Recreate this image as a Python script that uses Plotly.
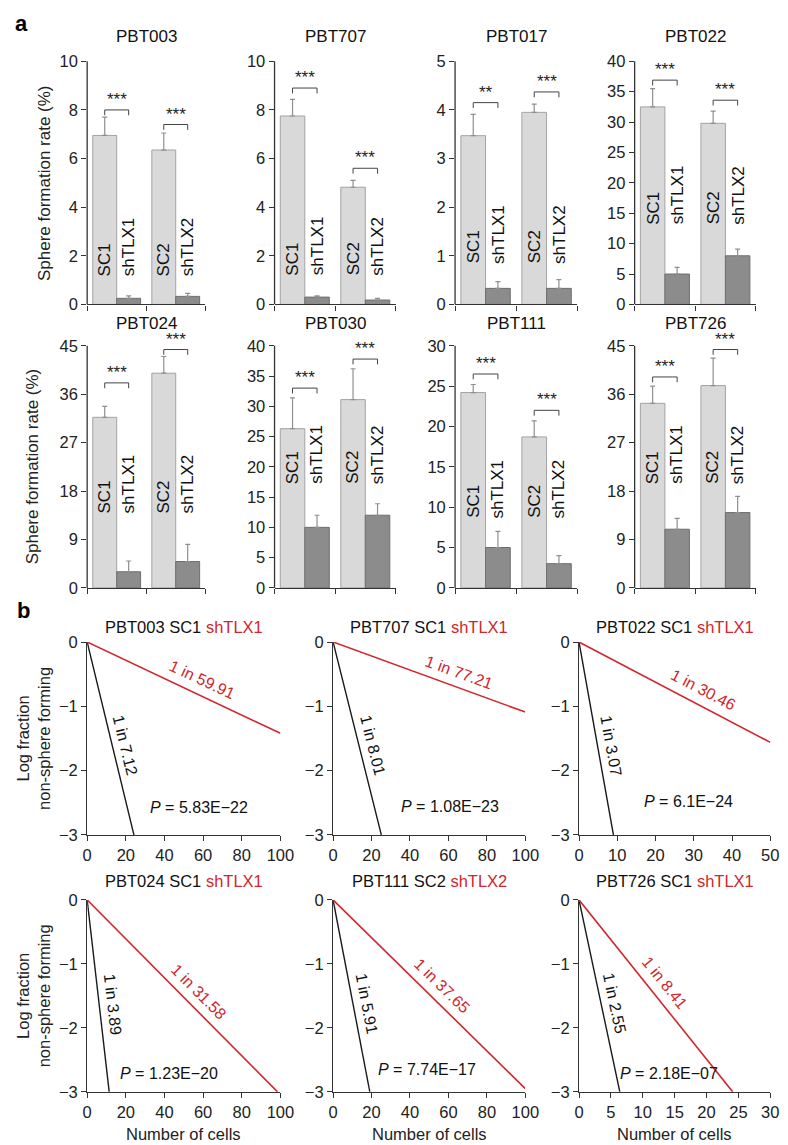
import math
import plotly.graph_objects as go

W, H = 788, 1145
FONT = "Liberation Sans, Arial, Helvetica, sans-serif"
RED = "#d0262c"
AX = "#333333"

# ---------------- panel a data ----------------
bar_titles = ["PBT003", "PBT707", "PBT017", "PBT022", "PBT024", "PBT030", "PBT111", "PBT726"]
group_index = [0, 1]
sc_labels = ["SC1", "SC2"]
sh_labels = ["shTLX1", "shTLX2"]
sc_values = [[6.95, 6.35], [7.75, 4.82], [3.47, 3.95], [32.5, 29.8],
             [31.7, 39.9], [26.3, 31.1], [24.2, 18.7], [34.3, 37.6]]
sc_errors = [[0.75, 0.70], [0.68, 0.28], [0.44, 0.17], [3.0, 2.0],
             [2.05, 3.1], [5.1, 5.1], [1.0, 2.0], [3.2, 5.1]]
sh_values = [[0.25, 0.33], [0.30, 0.18], [0.33, 0.33], [5.0, 8.0],
             [3.0, 4.9], [10.0, 12.0], [5.0, 3.0], [10.9, 14.0]]
sh_errors = [[0.10, 0.12], [0.05, 0.07], [0.14, 0.18], [1.1, 1.1],
             [2.0, 3.2], [2.0, 1.9], [2.0, 1.0], [2.0, 3.0]]
sig_stars = [["***", "***"], ["***", "***"], ["**", "***"], ["***", "***"],
             ["***", "***"], ["***", "***"], ["***", "***"], ["***", "***"]]
sig_levels = [[8.0, 7.4], [8.9, 5.6], [4.15, 4.37], [36.9, 33.6],
              [38.1, 44.3], [33.0, 37.8], [26.5, 22.0], [39.2, 44.3]]
y_max = [10, 10, 5, 40, 45, 40, 30, 45]
y_step = [2, 2, 1, 5, 9, 5, 5, 9]

# ---------------- panel b data ----------------
lda_titles = ["PBT003 SC1", "PBT707 SC1", "PBT022 SC1", "PBT024 SC1", "PBT111 SC2", "PBT726 SC1"]
lda_kd_names = ["shTLX1", "shTLX1", "shTLX1", "shTLX1", "shTLX2", "shTLX1"]
x_max = [100, 100, 50, 100, 100, 30]
x_step = [20, 20, 10, 20, 20, 5]
ctrl_x = [[0, 24.2], [0, 25.1], [0, 9.0], [0, 11.4], [0, 19.1], [0, 6.4]]
ctrl_y = [[0, -3], [0, -3], [0, -3], [0, -3], [0, -3], [0, -3]]
kd_x = [[0, 100], [0, 100], [0, 50], [0, 98.5], [0, 100], [0, 24.1]]
kd_y = [[0, -1.42], [0, -1.09], [0, -1.56], [0, -3], [0, -2.95], [0, -3]]
ctrl_freq = ["1 in 7.12", "1 in 8.01", "1 in 3.07", "1 in 3.89", "1 in 5.91", "1 in 2.55"]
kd_freq = ["1 in 59.91", "1 in 77.21", "1 in 30.46", "1 in 31.58", "1 in 37.65", "1 in 8.41"]
p_values = ["5.83E\u221222", "1.08E\u221223", "6.1E\u221224", "1.23E\u221220", "7.74E\u221217", "2.18E\u221207"]
p_x = [58, 61, 28.6, 42.6, 49, 14.1]
p_y = [-2.57, -2.56, -2.48, -2.71, -2.65, -2.71]

# ---------------- layout settings (pixels) ----------------
BAR_COLS = [(76, 197), (268, 392), (453, 578), (637, 761)]
BAR_ROWS = [(45, 292), (334, 580)]
BAR_TITLE_Y = [20, 311]
BAR_YLAB_X = [33, 20]
EXT = 1.14
BARGAP = 0.19
label_base_frac = [0.108, 0.11, 0.16, 0.32, 0.30, 0.42, 0.28, 0.42]

LINE_COLS = [(76, 274), (328, 525), (580, 776)]
LINE_ROWS = [(635, 831), (897, 1092)]
LINE_TITLE_Y = [620, 878]
red_t = [0.56, 0.63, 0.61, 0.53, 0.51, 0.48]
black_t = 0.55

fig = go.Figure()
layout = {}
annotations = []
shapes = []


def px_x(p):
    return p / W


def px_y(p):
    return 1 - p / H


tickfont = dict(size=16.5, color="#222", family=FONT)

# ---------------- panel a ----------------
off = (1 - BARGAP) / 4
for i, title in enumerate(bar_titles):
    k = i + 1
    r, c = divmod(i, 4)
    sfx = "" if k == 1 else str(k)
    xref, yref = "x" + sfx, "y" + sfx
    x0p, x1p = BAR_COLS[c]
    topp, botp = BAR_ROWS[r]
    ymax = y_max[i]
    top_ext = botp - (botp - topp) * EXT
    layout["xaxis" + sfx] = dict(
        domain=[px_x(x0p), px_x(x1p)], anchor=yref, range=[-0.5, 1.5],
        tickvals=[-0.5, 0.5, 1.5], ticks="outside", ticklen=5, tickwidth=1.3,
        tickcolor=AX, showticklabels=False, showline=True, linecolor=AX,
        linewidth=1.3, showgrid=False, zeroline=False, fixedrange=True)
    layout["yaxis" + sfx] = dict(
        domain=[px_y(botp), px_y(top_ext)], anchor=xref, range=[0, ymax * EXT],
        tickvals=list(range(0, ymax + 1, y_step[i])), ticks="outside", ticklen=5,
        tickwidth=1.3, tickcolor=AX, showline=False, showgrid=False,
        zeroline=False, tickfont=tickfont, fixedrange=True)
    shapes.append(dict(type="line", xref=xref + " domain", yref=yref, x0=0, x1=0,
                       y0=0, y1=ymax, line=dict(color=AX, width=1.3)))

    fig.add_trace(go.Bar(
        x=group_index, y=sc_values[i], xaxis=xref, yaxis=yref, showlegend=False,
        marker=dict(color="#d9d9d9", line=dict(color="#a3a3a3", width=1)),
        error_y=dict(type="data", array=sc_errors[i], arrayminus=[0, 0],
                     symmetric=False, color="#8f8f8f", thickness=1.2, width=2.5)))
    fig.add_trace(go.Bar(
        x=group_index, y=sh_values[i], xaxis=xref, yaxis=yref, showlegend=False,
        marker=dict(color="#8c8c8c", line=dict(color="#6e6e6e", width=1)),
        error_y=dict(type="data", array=sh_errors[i], arrayminus=[0, 0],
                     symmetric=False, color="#8f8f8f", thickness=1.2, width=2.5)))

    base = label_base_frac[i] * ymax
    for g in group_index:
        for name, dx in ((sc_labels[g], -off), (sh_labels[g], off)):
            annotations.append(dict(
                x=g + dx, y=base, xref=xref, yref=yref, text=name, textangle=-90,
                showarrow=False, xanchor="center", yanchor="bottom",
                font=dict(size=17, color="#111", family=FONT)))
        L = sig_levels[i][g]
        tk = 0.022 * ymax
        xl, xr = g - off, g + off
        bl = dict(color="#444", width=1)
        shapes.append(dict(type="line", xref=xref, yref=yref, x0=xl, x1=xr, y0=L, y1=L, line=bl))
        shapes.append(dict(type="line", xref=xref, yref=yref, x0=xl, x1=xl, y0=L - tk, y1=L, line=bl))
        shapes.append(dict(type="line", xref=xref, yref=yref, x0=xr, x1=xr, y0=L - tk, y1=L, line=bl))
        annotations.append(dict(
            x=g, y=L, xref=xref, yref=yref, text=sig_stars[i][g], showarrow=False,
            xanchor="center", yanchor="bottom", yshift=-1,
            font=dict(size=17, color="#222", family=FONT)))

    annotations.append(dict(
        x=px_x((x0p + x1p) / 2), y=px_y(BAR_TITLE_Y[r]), xref="paper", yref="paper",
        text=title, showarrow=False, xanchor="center", yanchor="middle",
        font=dict(size=17, color="#111", family=FONT)))

for r in range(2):
    topp, botp = BAR_ROWS[r]
    annotations.append(dict(
        x=px_x(BAR_YLAB_X[r]), y=px_y((topp + botp) / 2), xref="paper", yref="paper",
        text="Sphere formation rate (%)", textangle=-90, showarrow=False,
        xanchor="center", yanchor="middle", font=dict(size=17, color="#222", family=FONT)))

# ---------------- panel b ----------------
for j, title in enumerate(lda_titles):
    k = 9 + j
    r, c = divmod(j, 3)
    sfx = str(k)
    xref, yref = "x" + sfx, "y" + sfx
    x0p, x1p = LINE_COLS[c]
    topp, botp = LINE_ROWS[r]
    layout["xaxis" + sfx] = dict(
        domain=[px_x(x0p), px_x(x1p)], anchor=yref, range=[0, x_max[j]],
        tickvals=list(range(0, x_max[j] + 1, x_step[j])), ticks="outside",
        ticklen=5, tickwidth=1.3, tickcolor=AX, showline=True, linecolor=AX,
        linewidth=1.3, showgrid=False, zeroline=False, tickfont=tickfont,
        fixedrange=True)
    layout["yaxis" + sfx] = dict(
        domain=[px_y(botp), px_y(topp)], anchor=xref, range=[-3, 0],
        tickvals=[0, -1, -2, -3], ticks="outside", ticklen=5, tickwidth=1.3,
        tickcolor=AX, showline=True, linecolor=AX, linewidth=1.3,
        showgrid=False, zeroline=False, tickfont=tickfont, fixedrange=True)

    fig.add_trace(go.Scatter(x=ctrl_x[j], y=ctrl_y[j], mode="lines", xaxis=xref, yaxis=yref,
                             line=dict(color="#1a1a1a", width=1.4), showlegend=False))
    fig.add_trace(go.Scatter(x=kd_x[j], y=kd_y[j], mode="lines", xaxis=xref, yaxis=yref,
                             line=dict(color=RED, width=1.6), showlegend=False))

    pxx = (x1p - x0p) / x_max[j]
    pxy = (botp - topp) / 3.0

    def along(xs, ys, t, text, color, d):
        xe, ye = xs[1], ys[1]
        th = math.atan2(-ye * pxy, xe * pxx)
        annotations.append(dict(
            x=xs[0] + t * (xe - xs[0]), y=ys[0] + t * (ye - ys[0]), xref=xref, yref=yref,
            text=text, textangle=math.degrees(th), showarrow=False,
            xanchor="center", yanchor="middle",
            xshift=d * math.sin(th), yshift=d * math.cos(th),
            font=dict(size=16, color=color, family=FONT)))

    along(kd_x[j], kd_y[j], red_t[j], kd_freq[j], RED, 15)
    along(ctrl_x[j], ctrl_y[j], black_t, ctrl_freq[j], "#111", 13)

    annotations.append(dict(
        x=p_x[j], y=p_y[j], xref=xref, yref=yref,
        text="<i>P</i> = " + p_values[j], showarrow=False,
        xanchor="center", yanchor="middle", font=dict(size=16, color="#111", family=FONT)))

    annotations.append(dict(
        x=px_x((x0p + x1p) / 2), y=px_y(LINE_TITLE_Y[r]), xref="paper", yref="paper",
        text=title + " <span style='color:%s'>%s</span>" % (RED, lda_kd_names[j]),
        showarrow=False, xanchor="center", yanchor="middle",
        font=dict(size=16.5, color="#111", family=FONT)))
    if r == 1:
        annotations.append(dict(
            x=px_x((x0p + x1p) / 2), y=px_y(1135), xref="paper", yref="paper",
            text="Number of cells", showarrow=False, xanchor="center", yanchor="middle",
            font=dict(size=16.5, color="#222", family=FONT)))

for r in range(2):
    topp, botp = LINE_ROWS[r]
    annotations.append(dict(
        x=px_x(21), y=px_y((topp + botp) / 2), xref="paper", yref="paper",
        text="Log fraction<br>non-sphere forming", textangle=-90, showarrow=False,
        xanchor="center", yanchor="middle", font=dict(size=16.5, color="#222", family=FONT)))

# panel letters
annotations.append(dict(x=px_x(9), y=px_y(7), xref="paper", yref="paper", text="<b>a</b>",
                        showarrow=False, xanchor="center", yanchor="middle",
                        font=dict(size=22, color="#000", family=FONT)))
annotations.append(dict(x=px_x(11), y=px_y(603), xref="paper", yref="paper", text="<b>b</b>",
                        showarrow=False, xanchor="center", yanchor="middle",
                        font=dict(size=22, color="#000", family=FONT)))

fig.update_layout(
    width=W, height=H, margin=dict(l=0, r=0, t=0, b=0),
    paper_bgcolor="white", plot_bgcolor="white",
    font=dict(family=FONT, color="#222"),
    barmode="group", bargap=BARGAP, bargroupgap=0,
    annotations=annotations, shapes=shapes, showlegend=False,
    **layout)

fig.write_html("out.html")
